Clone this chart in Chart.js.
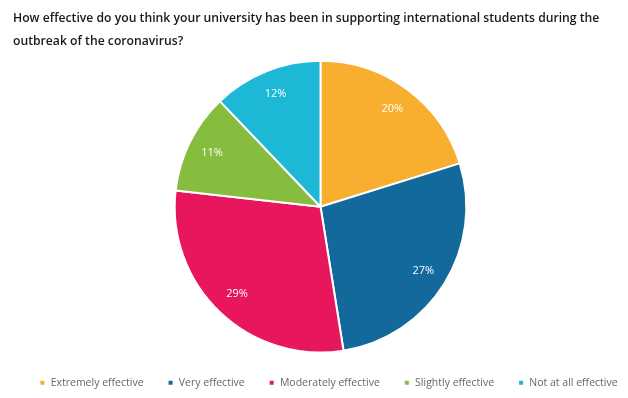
<!DOCTYPE html>
<html>
<head>
<meta charset="utf-8">
<script src="https://cdn.jsdelivr.net/npm/chart.js@4"></script>
<style>
  html, body { margin: 0; padding: 0; background: #fff; }
  #wrap { width: 628px; height: 398px; position: relative; }
</style>
</head>
<body>
<div id="wrap"><canvas id="grafico"></canvas></div>
<script>
const categorias = ["Extremely effective", "Very effective", "Moderately effective", "Slightly effective", "Not at all effective"];
const valores = [20, 27, 29, 11, 12];
const cores = ["#F8AF30", "#13699B", "#E8175D", "#87BD3E", "#1DB8D5"];
const titulo = ["How effective do you think your university has been in supporting international students during the", "outbreak of the coronavirus?"];

// rótulos de percentagem dentro das fatias
const rotulosPlugin = {
  id: "rotulos",
  afterDatasetsDraw(chart) {
    const ctx = chart.ctx;
    const meta = chart.getDatasetMeta(0);
    ctx.save();
    ctx.fillStyle = "#ffffff";
    ctx.font = "11px 'Open Sans'";
    ctx.textAlign = "center";
    ctx.textBaseline = "middle";
    meta.data.forEach((arc, i) => {
      const ang = (arc.startAngle + arc.endAngle) / 2;
      const r = arc.outerRadius * 0.83;
      ctx.fillText(valores[i] + "%", arc.x + Math.cos(ang) * r, arc.y + Math.sin(ang) * r);
    });
    ctx.restore();
  }
};

new Chart(document.getElementById("grafico"), {
  type: "pie",
  data: {
    labels: categorias,
    datasets: [{
      data: valores,
      backgroundColor: cores,
      borderColor: "#ffffff",
      borderWidth: 2
    }]
  },
  options: {
    responsive: true,
    maintainAspectRatio: false,
    animation: false,
    layout: { padding: { left: 13, right: -16, top: 0, bottom: 0 } },
    plugins: {
      title: {
        display: true,
        text: titulo,
        align: "start",
        color: "#1a1a1a",
        font: { family: "'Open Sans'", size: 12.2, weight: "600", lineHeight: 1.88 },
        padding: { top: 7, bottom: 7 }
      },
      legend: {
        position: "bottom",
        labels: {
          color: "#666666",
          font: { family: "'Open Sans'", size: 10.5 },
          boxWidth: 6,
          boxHeight: 6,
          padding: 24
        }
      },
      tooltip: { enabled: false }
    }
  },
  plugins: [rotulosPlugin]
});
</script>
</body>
</html>
